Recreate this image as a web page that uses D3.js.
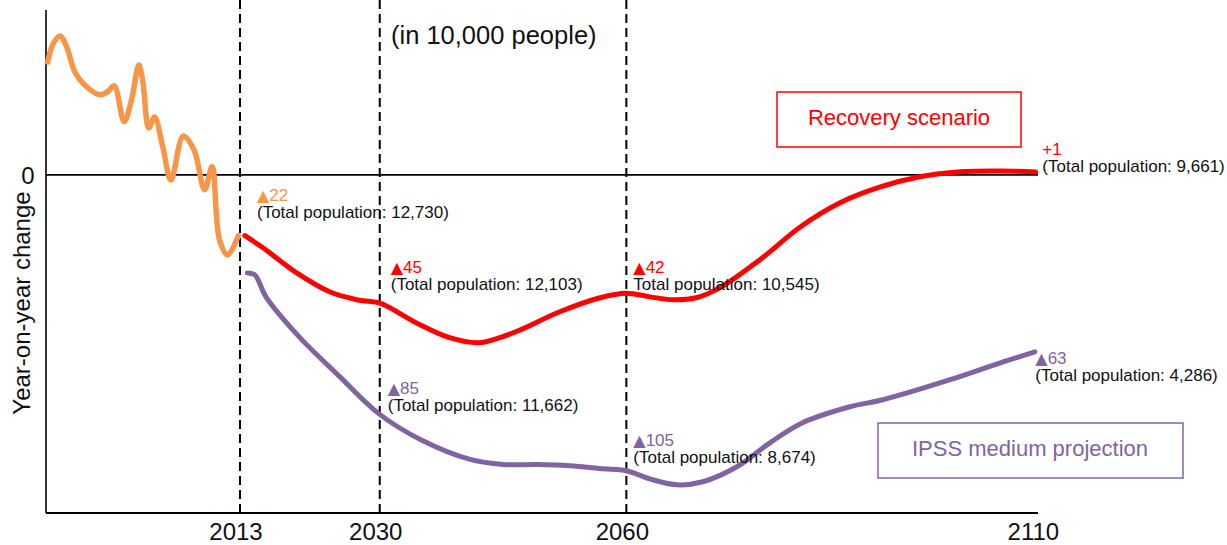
<!DOCTYPE html>
<html>
<head>
<meta charset="utf-8">
<script src="https://cdn.jsdelivr.net/npm/d3@7"></script>
<style>
  body { margin: 0; background: #fff; }
  svg { font-family: "Liberation Sans", Arial, sans-serif; display: block; }
</style>
</head>
<body>
<svg id="canvas" width="1227" height="545"></svg>
<script>
// ---- data (year, year-on-year change in 10,000 people) ----
const pastYears = [1989.6, 1990.3, 1991.1, 1991.9, 1992.9, 1994.1, 1996.0, 1996.9, 1997.7, 1998.9, 1999.8, 2000.7,
  2001.2, 2001.9, 2002.6, 2003.6, 2004.6, 2006.1, 2007.4, 2008.7, 2009.6, 2010.5, 2011.5, 2012.8];
const pastValues = [40, 46.7, 49.3, 45.5, 36.6, 31.9, 28.4, 29.5, 31.6, 18.9, 26.6, 39,
  32.6, 16.6, 20.5, 10, -1.8, 13.8, 8.9, -5.3, 2.9, -23, -28.4, -21.6];

const recoveryYears = [2013.6, 2015.8, 2019.9, 2023.9, 2027.2, 2030, 2031, 2034.9, 2038.5, 2042, 2044.6, 2047.1,
  2051.9, 2056.8, 2060, 2062.9, 2065.6, 2068.5, 2071.4, 2076.3, 2081.2, 2086, 2090.9, 2095.7, 2100.6, 2105.5, 2109.8];
const recoveryValues = [-21.6, -25.9, -34.8, -41.5, -44.3, -45.5, -46.8, -53.2, -57.8, -59.6, -57.8, -55,
  -48.6, -43.6, -42, -43.3, -44.3, -43.6, -40, -30, -18.4, -9.9, -4.3, -0.7, 1.1, 1.4, 1];

const ipssYears = [2013.9, 2014.8, 2016.2, 2020.2, 2025.1, 2030, 2035, 2041, 2045, 2049.1,
  2053.1, 2057.2, 2060, 2063.2, 2066.2, 2069.3, 2073.5, 2077.5, 2081.5, 2087.2, 2091.2, 2099.4, 2105.5, 2109.7];
const ipssValues = [-34.8, -35.5, -43.5, -57.5, -71.5, -85, -94, -101, -102.8, -102.8,
  -103.2, -104.3, -105, -108.2, -110, -108.9, -103.5, -95, -87.9, -82.3, -79.8, -72.7, -66.7, -62.8];

const markYears = [2013, 2030, 2060, 2110];
const yTicks = [0];

// annotations: year, value, change label, total label, series
const noteYears  = [2013, 2030, 2060, 2110, 2030, 2060, 2110];
const noteValues = [-22, -45, -42, 1, -85, -105, -63];
const noteDelta  = ["▲22", "▲45", "▲42", "+1", "▲85", "▲105", "▲63"];
const noteTotal  = ["(Total population: 12,730)", "(Total population: 12,103)", "Total population: 10,545)",
  "(Total population: 9,661)", "(Total population: 11,662)", "(Total population: 8,674)", "(Total population: 4,286)"];
const noteSeries = ["past", "recovery", "recovery", "recovery", "ipss", "ipss", "ipss"];

// ---- layout ----
const noteDx = [17, 11, 7, 5, 8, 7, -2];
const noteDy = [-36, -29, -20, -17, -20, -25, 12];
const color = { past: "#f79646", recovery: "#ff0000", ipss: "#8064a2" };

const svg = d3.select("#canvas");
const plotLeft = 46, plotRight = 1038, plotTop = 10, plotBottom = 513;

const x = d3.scaleLinear().domain([1989.4, 2110.2]).range([plotLeft, 1039]);
const y = d3.scaleLinear().domain([-120, 58.5]).range([plotBottom, plotTop]);

// dashed year markers
svg.selectAll(".mark")
  .data(markYears.slice(0, 3))
  .join("line")
    .attr("x1", d => x(d)).attr("x2", d => x(d))
    .attr("y1", 0).attr("y2", plotBottom)
    .attr("stroke", "#000").attr("stroke-width", 2)
    .attr("stroke-dasharray", "9,5");

// zero line
svg.append("line")
  .attr("x1", plotLeft).attr("x2", plotRight)
  .attr("y1", y(0)).attr("y2", y(0))
  .attr("stroke", "#000").attr("stroke-width", 1.6);

// axes lines
svg.append("line")
  .attr("x1", plotLeft).attr("x2", plotLeft).attr("y1", plotTop).attr("y2", plotBottom)
  .attr("stroke", "#000").attr("stroke-width", 1.6);
svg.append("line")
  .attr("x1", plotLeft).attr("x2", plotRight).attr("y1", plotBottom).attr("y2", plotBottom)
  .attr("stroke", "#000").attr("stroke-width", 2.2);

// x labels
svg.selectAll(".xlab")
  .data(markYears)
  .join("text")
    .attr("x", d => x(d) - 4)
    .attr("y", 540)
    .attr("text-anchor", "middle")
    .attr("font-size", 24)
    .attr("fill", "#111")
    .text(d => d);

// y tick label
svg.selectAll(".ylab")
  .data(yTicks)
  .join("text")
    .attr("x", 28)
    .attr("y", d => y(d) + 9)
    .attr("text-anchor", "middle")
    .attr("font-size", 24)
    .attr("fill", "#111")
    .text(d => d);

svg.append("text")
  .attr("transform", "translate(30,303) rotate(-90)")
  .attr("text-anchor", "middle")
  .attr("font-size", 24)
  .attr("fill", "#111")
  .text("Year-on-year change");

svg.append("text")
  .attr("x", 391)
  .attr("y", 44)
  .attr("font-size", 25.5)
  .attr("fill", "#111")
  .text("(in 10,000 people)");

// lines
const line = d3.line()
  .x(d => x(d[0]))
  .y(d => y(d[1]))
  .curve(d3.curveCatmullRom.alpha(0.5));

const series = [
  { key: "past", pts: d3.zip(pastYears, pastValues) },
  { key: "ipss", pts: d3.zip(ipssYears, ipssValues) },
  { key: "recovery", pts: d3.zip(recoveryYears, recoveryValues) }
];

svg.selectAll(".series")
  .data(series)
  .join("path")
    .attr("fill", "none")
    .attr("stroke", d => color[d.key])
    .attr("stroke-width", d => d.key === "past" ? 5.5 : 5)
    .attr("stroke-linecap", "round")
    .attr("stroke-linejoin", "round")
    .attr("d", d => line(d.pts));

// annotations
const notes = svg.selectAll(".note")
  .data(noteYears.map((yr, i) => i))
  .join("g")
    .attr("transform", i => `translate(${x(noteYears[i]) + noteDx[i]},${y(noteValues[i]) + noteDy[i]})`);

const delta = notes.append("text")
  .attr("font-size", 17)
  .attr("fill", i => color[noteSeries[i]]);
// triangle sign drawn with a font whose glyph is full height
delta.append("tspan")
  .attr("font-family", "'DejaVu Sans', sans-serif")
  .attr("font-size", 16)
  .text(i => noteDelta[i].startsWith("▲") ? "▲" : "");
delta.append("tspan")
  .text(i => noteDelta[i].replace("▲", ""));

notes.append("text")
  .attr("y", 17)
  .attr("font-size", 17)
  .attr("fill", "#111")
  .text(i => noteTotal[i]);

// scenario boxes
svg.append("rect")
  .attr("x", 777).attr("y", 92).attr("width", 244).attr("height", 55)
  .attr("fill", "#fff").attr("stroke", color.recovery).attr("stroke-width", 1.5);
svg.append("text")
  .attr("x", 899).attr("y", 125)
  .attr("text-anchor", "middle")
  .attr("font-size", 22)
  .attr("fill", color.recovery)
  .text("Recovery scenario");

svg.append("rect")
  .attr("x", 878).attr("y", 423).attr("width", 305).attr("height", 55)
  .attr("fill", "#fff").attr("stroke", color.ipss).attr("stroke-width", 1.5);
svg.append("text")
  .attr("x", 1030).attr("y", 456)
  .attr("text-anchor", "middle")
  .attr("font-size", 22)
  .attr("fill", color.ipss)
  .text("IPSS medium projection");
</script>
</body>
</html>
